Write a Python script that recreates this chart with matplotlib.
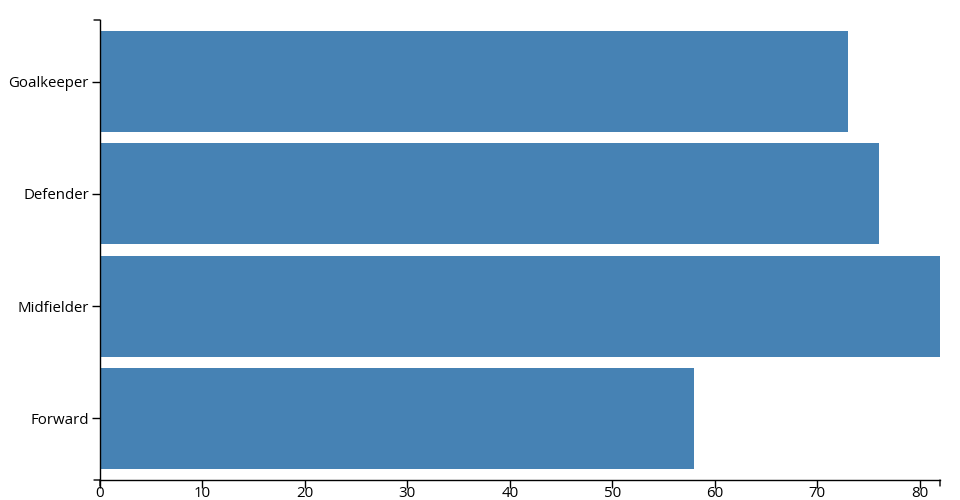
import matplotlib.pyplot as plt

# Data
positions = ['Goalkeeper', 'Defender', 'Midfielder', 'Forward']
values = [73, 76, 82, 58]
x_ticks = [0, 10, 20, 30, 40, 50, 60, 70, 80]

plt.rcParams['font.family'] = ['Open Sans', 'DejaVu Sans']

fig = plt.figure(figsize=(9.6, 5), dpi=100)
ax = fig.add_axes([100 / 960, 20 / 500, 840 / 960, 460 / 500])

# band scale with padding 0.1
n = len(positions)
pad = 0.1
ys = list(range(n))
ax.barh(ys, values, height=1 - pad, color='steelblue')
ax.set_ylim(n - 1 + 0.5 + pad / 2, -0.5 - pad / 2)
ax.set_xlim(0, max(values))

ax.set_yticks(ys)
ax.set_yticklabels(positions)
ax.set_xticks(x_ticks)

for s in ['top', 'right']:
    ax.spines[s].set_visible(False)
for s in ['left', 'bottom']:
    ax.spines[s].set_linewidth(1)
    ax.spines[s].set_color('black')

ax.tick_params(axis='both', length=6, width=1, color='black', labelsize=10.8, labelcolor='black')
ax.tick_params(axis='y', pad=2)
ax.tick_params(axis='x', pad=-1.5)

# outer ticks like d3 axes
def outer_tick(xy, off):
    ax.annotate('', xy=xy, xycoords='axes fraction', xytext=off, textcoords='offset pixels',
                arrowprops=dict(arrowstyle='-', lw=1, color='black', shrinkA=0, shrinkB=0))

outer_tick((0, 1), (-6, 0))
outer_tick((0, 0), (-6, 0))
outer_tick((1, 0), (0, -6))
outer_tick((0, 0), (0, -6))

plt.savefig('out.png', dpi=100)
